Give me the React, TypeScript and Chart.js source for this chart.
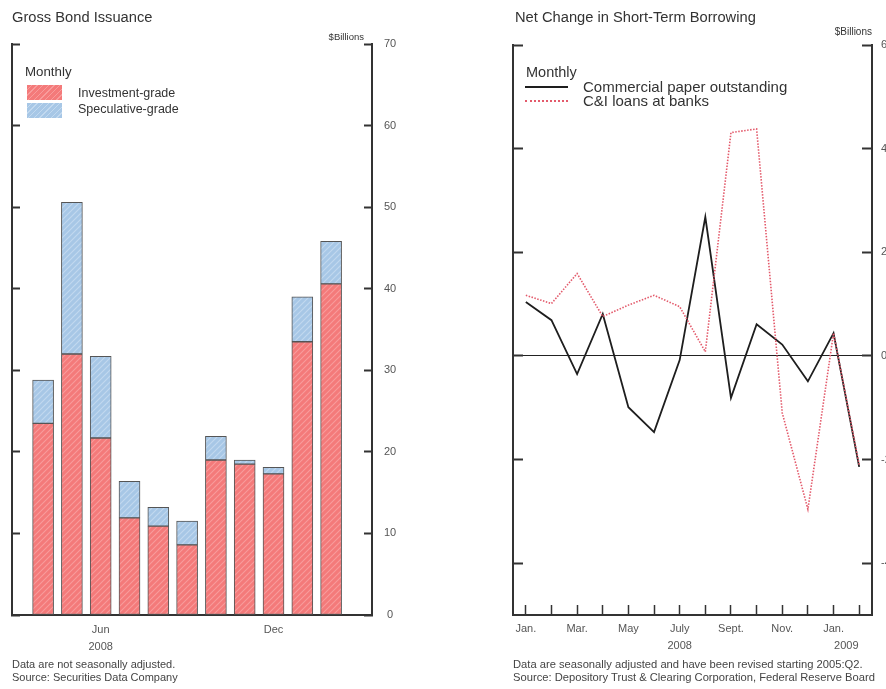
import React, { useEffect, useRef } from 'react';
import { Chart, registerables } from 'chart.js';

Chart.register(...registerables);

// ---------- Left chart: Gross Bond Issuance ----------
const bondMonths = ['Apr', 'May', 'Jun', 'Jul', 'Aug', 'Sep', 'Oct', 'Nov', 'Dec', 'Jan', 'Feb'];
const investmentGrade = [23.5, 32.0, 21.7, 11.9, 10.9, 8.6, 19.0, 18.5, 17.3, 33.5, 40.6];
const speculativeGrade = [5.3, 18.6, 10.0, 4.5, 2.3, 2.9, 2.9, 0.5, 0.8, 5.5, 5.2];
const bondTickMonths = ['Jun', 'Dec'];
const bondTickText = [['Jun', '2008'], ['Dec']];
const bondYTicks = [0, 10, 20, 30, 40, 50, 60, 70];

// ---------- Right chart: Net Change in Short-Term Borrowing ----------
const borrowMonths = ['Jan.', 'Feb.', 'Mar.', 'Apr.', 'May', 'June', 'July', 'Aug.', 'Sept.', 'Oct.', 'Nov.', 'Dec.', 'Jan.', 'Feb.'];
const borrowTickLabels = ['Jan.', '', 'Mar.', '', 'May', '', 'July', '', 'Sept.', '', 'Nov.', '', 'Jan.', ''];
const commercialPaper = [10.4, 6.9, -3.5, 8.1, -9.9, -14.7, -0.8, 26.8, -8.1, 6.1, 2.2, -4.9, 4.4, -21.4];
const ciLoans = [11.7, 10.1, 15.9, 7.6, 9.8, 11.7, 9.5, 0.8, 43.1, 43.8, -11.0, -29.6, 4.4, -21.0];
const yearLabels = ['2008', '2009'];
const yearPositions = [6, 12.5];

const FONT = '"Liberation Sans", Arial, Helvetica, sans-serif';
const AXIS = '#333';
const LABEL = '#555';

function hatch(base: string, line: string) {
  const c = document.createElement('canvas');
  c.width = 6;
  c.height = 6;
  const g = c.getContext('2d')!;
  g.fillStyle = base;
  g.fillRect(0, 0, 6, 6);
  g.strokeStyle = line;
  g.lineWidth = 1.1;
  g.beginPath();
  g.moveTo(0, 6); g.lineTo(6, 0);
  g.moveTo(-1, 1); g.lineTo(1, -1);
  g.moveTo(5, 7); g.lineTo(7, 5);
  g.stroke();
  return g.createPattern(c, 'repeat')!;
}

const yearPlugin = {
  id: 'yearLabels',
  afterDraw(chart: any) {
    const xs = chart.scales.x;
    const ctx = chart.ctx;
    ctx.save();
    ctx.font = `11px ${FONT}`;
    ctx.fillStyle = LABEL;
    ctx.textAlign = 'center';
    ctx.textBaseline = 'middle';
    yearLabels.forEach((t, i) => {
      ctx.fillText(t, xs.getPixelForValue(yearPositions[i]), chart.chartArea.bottom + 31);
    });
    ctx.restore();
  },
};

function Txt(props: { x: number; y: number; size: number; children: any; right?: boolean; color?: string }) {
  const { x, y, size, children, right, color } = props;
  return (
    <div
      style={{
        position: 'absolute',
        left: x,
        top: y - size * 0.6,
        fontSize: size,
        lineHeight: `${size * 1.2}px`,
        whiteSpace: 'nowrap',
        color: color || '#333',
        transform: right ? 'translateX(-100%)' : undefined,
      }}
    >
      {children}
    </div>
  );
}

export default function App() {
  const leftRef = useRef<HTMLCanvasElement>(null);
  const rightRef = useRef<HTMLCanvasElement>(null);

  useEffect(() => {
    Chart.defaults.font.family = FONT;
    const redFill = hatch('#f47a7a', '#f89c9c');
    const blueFill = hatch('#a7c7e6', '#c2d9ef');
    const bondTickIdx = bondTickMonths.map((m) => bondMonths.indexOf(m));

    const left = new Chart(leftRef.current!, {
      type: 'bar',
      data: {
        datasets: [
          {
            label: 'Investment-grade',
            data: investmentGrade.map((v, i) => ({ x: i, y: v })),
            backgroundColor: redFill,
            borderColor: '#555',
            borderWidth: 1,
            borderSkipped: false,
            barThickness: 21,
          },
          {
            label: 'Speculative-grade',
            data: speculativeGrade.map((v, i) => ({ x: i, y: v })),
            backgroundColor: blueFill,
            borderColor: '#555',
            borderWidth: 1,
            borderSkipped: false,
            barThickness: 21,
          },
        ],
      },
      options: {
        responsive: false,
        animation: false,
        events: [],
        layout: { padding: { left: 12, right: 0, top: 44, bottom: 34 } },
        plugins: { legend: { display: false }, tooltip: { enabled: false }, title: { display: false } },
        scales: {
          x: {
            type: 'linear',
            min: -1.08,
            max: 11.42,
            stacked: true,
            offset: false,
            position: 'bottom',
            grid: { display: false, drawTicks: false, offset: false },
            border: { display: true, color: AXIS, width: 2 },
            afterBuildTicks: (s: any) => {
              s.ticks = bondTickIdx.map((v) => ({ value: v }));
            },
            afterFit: (s: any) => {
              s.height = 40;
            },
            ticks: {
              autoSkip: false,
              maxRotation: 0,
              padding: 6.6,
              color: LABEL,
              font: { size: 11, lineHeight: 1.55 },
              callback: (v: any) => {
                const i = bondTickIdx.indexOf(v);
                return i >= 0 ? bondTickText[i] : '';
              },
            },
          },
          y: {
            position: 'right',
            min: 0,
            max: 70,
            stacked: true,
            afterBuildTicks: (s: any) => {
              s.ticks = bondYTicks.map((v) => ({ value: v }));
            },
            afterFit: (s: any) => {
              s.width = 68;
            },
            grid: { drawOnChartArea: false, tickLength: -8, tickColor: AXIS, tickWidth: 2 },
            border: { display: true, color: AXIS, width: 2 },
            ticks: { padding: 20, crossAlign: 'center', color: LABEL, font: { size: 11 } },
          },
          yL: {
            position: 'left',
            min: 0,
            max: 70,
            afterBuildTicks: (s: any) => {
              s.ticks = bondYTicks.map((v) => ({ value: v }));
            },
            afterFit: (s: any) => {
              s.width = 0;
            },
            grid: { drawOnChartArea: false, tickLength: -8, tickColor: AXIS, tickWidth: 2 },
            border: { display: true, color: AXIS, width: 2 },
            ticks: { display: false },
          },
        },
      },
    } as any);

    const right = new Chart(rightRef.current!, {
      type: 'line',
      data: {
        labels: borrowMonths,
        datasets: [
          {
            label: 'C&I loans at banks',
            data: ciLoans,
            borderColor: '#e35a6b',
            borderWidth: 1.6,
            borderDash: [1.5, 1.5],
            pointRadius: 0,
            tension: 0,
            fill: false,
          },
          {
            label: 'Commercial paper outstanding',
            data: commercialPaper,
            borderColor: '#1e1e1e',
            borderWidth: 1.8,
            pointRadius: 0,
            tension: 0,
            fill: false,
          },
        ],
      },
      options: {
        responsive: false,
        animation: false,
        events: [],
        layout: { padding: { left: 73, right: 0, top: 45, bottom: 34 } },
        plugins: { legend: { display: false }, tooltip: { enabled: false }, title: { display: false } },
        scales: {
          x: {
            type: 'category',
            offset: true,
            grid: { drawOnChartArea: false, offset: false, tickLength: -10, tickColor: AXIS, tickWidth: 1.5 },
            border: { display: true, color: AXIS, width: 2 },
            afterFit: (s: any) => {
              s.height = 40;
            },
            ticks: {
              autoSkip: false,
              maxRotation: 0,
              padding: 17.5,
              color: LABEL,
              font: { size: 11 },
              callback: (_v: any, i: number) => borrowTickLabels[i],
            },
          },
          y: {
            position: 'right',
            min: -50,
            max: 60,
            ticks: { stepSize: 20, includeBounds: false, padding: 19, crossAlign: 'near', color: LABEL, font: { size: 11 } },
            afterFit: (s: any) => {
              s.width = 38;
            },
            grid: {
              drawOnChartArea: true,
              color: (c: any) => (c.tick && c.tick.value === 0 ? '#222' : 'rgba(0,0,0,0)'),
              lineWidth: 1,
              tickLength: -10,
              tickColor: AXIS,
              tickWidth: 2,
            },
            border: { display: true, color: AXIS, width: 2 },
          },
          yL: {
            position: 'left',
            min: -50,
            max: 60,
            ticks: { display: false, stepSize: 20, includeBounds: false },
            afterFit: (s: any) => {
              s.width = 0;
            },
            grid: { drawOnChartArea: false, tickLength: -10, tickColor: AXIS, tickWidth: 2 },
            border: { display: true, color: AXIS, width: 2 },
          },
        },
      },
      plugins: [yearPlugin],
    } as any);

    return () => {
      left.destroy();
      right.destroy();
    };
  }, []);

  return (
    <div
      style={{
        position: 'absolute',
        left: 0,
        top: 0,
        width: 886,
        height: 689,
        overflow: 'hidden',
        background: '#fff',
        fontFamily: FONT,
      }}
    >
      <canvas ref={leftRef} width={440} height={689} style={{ position: 'absolute', left: 0, top: 0 }} />
      <canvas ref={rightRef} width={470} height={689} style={{ position: 'absolute', left: 440, top: 0 }} />

      {/* Left chart texts */}
      <Txt x={12} y={18} size={14.7}>Gross Bond Issuance</Txt>
      <Txt x={364} y={37} size={9.5} right>$Billions</Txt>
      <Txt x={25} y={72} size={13.3}>Monthly</Txt>
      <div
        style={{
          position: 'absolute', left: 27, top: 85, width: 35, height: 15,
          background: 'repeating-linear-gradient(135deg, #f47a7a 0 3px, #f89c9c 3px 4px)',
        }}
      />
      <div
        style={{
          position: 'absolute', left: 27, top: 103, width: 35, height: 15,
          background: 'repeating-linear-gradient(135deg, #a7c7e6 0 3px, #c2d9ef 3px 4px)',
        }}
      />
      <Txt x={78} y={93} size={12.5}>Investment-grade</Txt>
      <Txt x={78} y={109} size={12.5}>Speculative-grade</Txt>
      <Txt x={12} y={665} size={11} color="#444">Data are not seasonally adjusted.</Txt>
      <Txt x={12} y={678} size={11} color="#444">Source: Securities Data Company</Txt>

      {/* Right chart texts */}
      <Txt x={515} y={18} size={14.7}>Net Change in Short-Term Borrowing</Txt>
      <Txt x={872} y={32} size={10} right>$Billions</Txt>
      <Txt x={526} y={73} size={14.5}>Monthly</Txt>
      <div style={{ position: 'absolute', left: 525, top: 86, width: 43, height: 0, borderTop: '2px solid #1e1e1e' }} />
      <div style={{ position: 'absolute', left: 525, top: 100, width: 43, height: 0, borderTop: '2px dotted #e35a6b' }} />
      <Txt x={583} y={87} size={15}>Commercial paper outstanding</Txt>
      <Txt x={583} y={101} size={15}>C&amp;I loans at banks</Txt>
      <Txt x={513} y={665} size={11.2} color="#444">Data are seasonally adjusted and have been revised starting 2005:Q2.</Txt>
      <Txt x={513} y={678} size={11.2} color="#444">Source: Depository Trust &amp; Clearing Corporation, Federal Reserve Board</Txt>
    </div>
  );
}
